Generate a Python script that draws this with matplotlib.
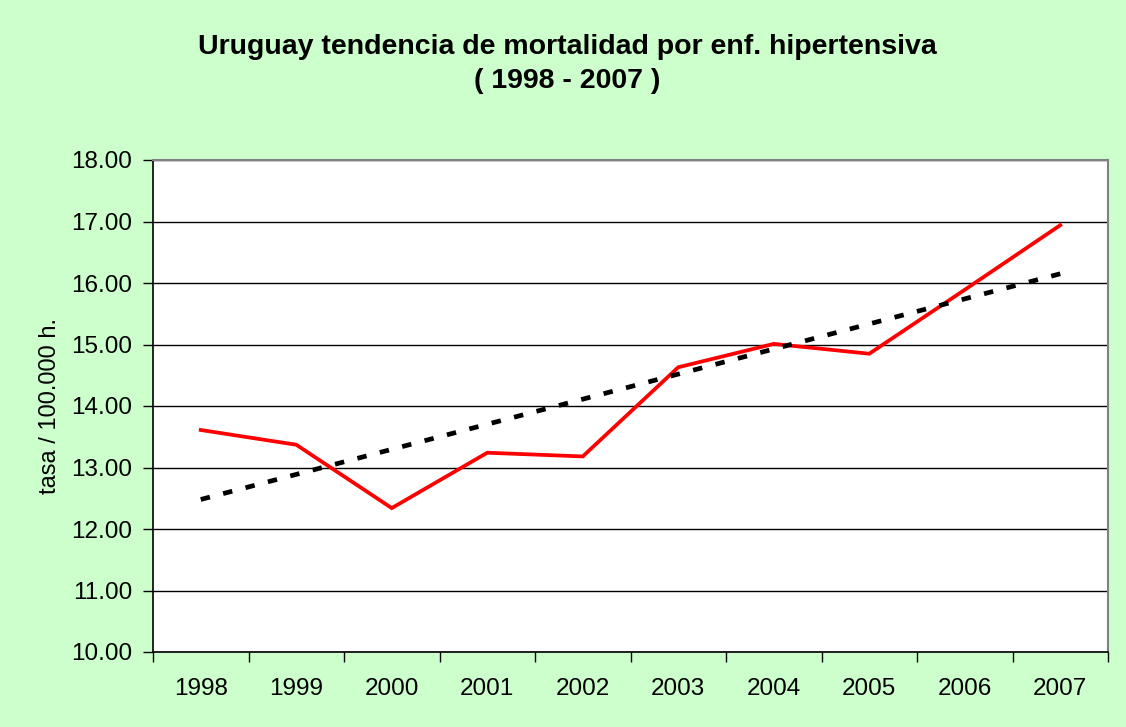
import matplotlib
matplotlib.use("Agg")
import matplotlib.pyplot as plt
from matplotlib.ticker import FixedLocator, FormatStrFormatter

years = ["1998", "1999", "2000", "2001", "2002", "2003", "2004", "2005", "2006", "2007"]
tasa = [13.61, 13.37, 12.34, 13.24, 13.18, 14.63, 15.01, 14.85, 15.89, 16.94]
trend_ends = [12.48, 16.15]   # linear trend line at first and last year
title = "Uruguay tendencia de mortalidad por enf. hipertensiva\n( 1998 - 2007 )"
ylabel = "tasa / 100.000 h."

plt.rcParams['font.family'] = ['Liberation Sans', 'DejaVu Sans']

fig = plt.figure(figsize=(11.26, 7.27), dpi=100)
fig.patch.set_facecolor('#CCFFCC')
ax = fig.add_axes([153/1126, 1-652/727, (1108-153)/1126, (652-160)/727])
ax.set_facecolor('white')

x = list(range(len(years)))
ax.plot(x, tasa, color='#FF0000', lw=2.7, solid_joinstyle='miter', zorder=3)
ax.plot([x[0], x[-1]], trend_ends, color='black', lw=3.4, dashes=(2.0, 2.9),
        dash_capstyle='butt', zorder=4)

ax.set_xlim(-0.5, len(years) - 0.5)
ax.set_ylim(10, 18)
ax.set_yticks([10, 11, 12, 13, 14, 15, 16, 17, 18])
ax.yaxis.set_major_formatter(FormatStrFormatter('%.2f'))
ax.yaxis.grid(True, color='black', lw=1.0)
ax.set_axisbelow(True)

ax.set_xticks(x)
ax.set_xticklabels(years)
ax.xaxis.set_minor_locator(FixedLocator([i - 0.5 for i in range(len(years) + 1)]))
ax.tick_params(axis='x', which='major', length=0, pad=19, labelsize=17.5)
ax.tick_params(axis='x', which='minor', length=7, width=1, color='black', direction='out')
ax.tick_params(axis='y', which='major', length=7, width=1, color='black', direction='out',
               pad=8, labelsize=17.5)

for s in ['left', 'bottom']:
    ax.spines[s].set_color('black')
    ax.spines[s].set_linewidth(1.2)
for s in ['top', 'right']:
    ax.spines[s].set_color('#808080')
    ax.spines[s].set_linewidth(1.5)

ax.set_ylabel(ylabel, fontsize=17, labelpad=7)

fig.text(567/1126, 1-64/727, title, ha='center', va='center', fontsize=20.5,
         fontweight='bold', linespacing=1.4)

fig.savefig('out.png', dpi=100, facecolor=fig.get_facecolor())
